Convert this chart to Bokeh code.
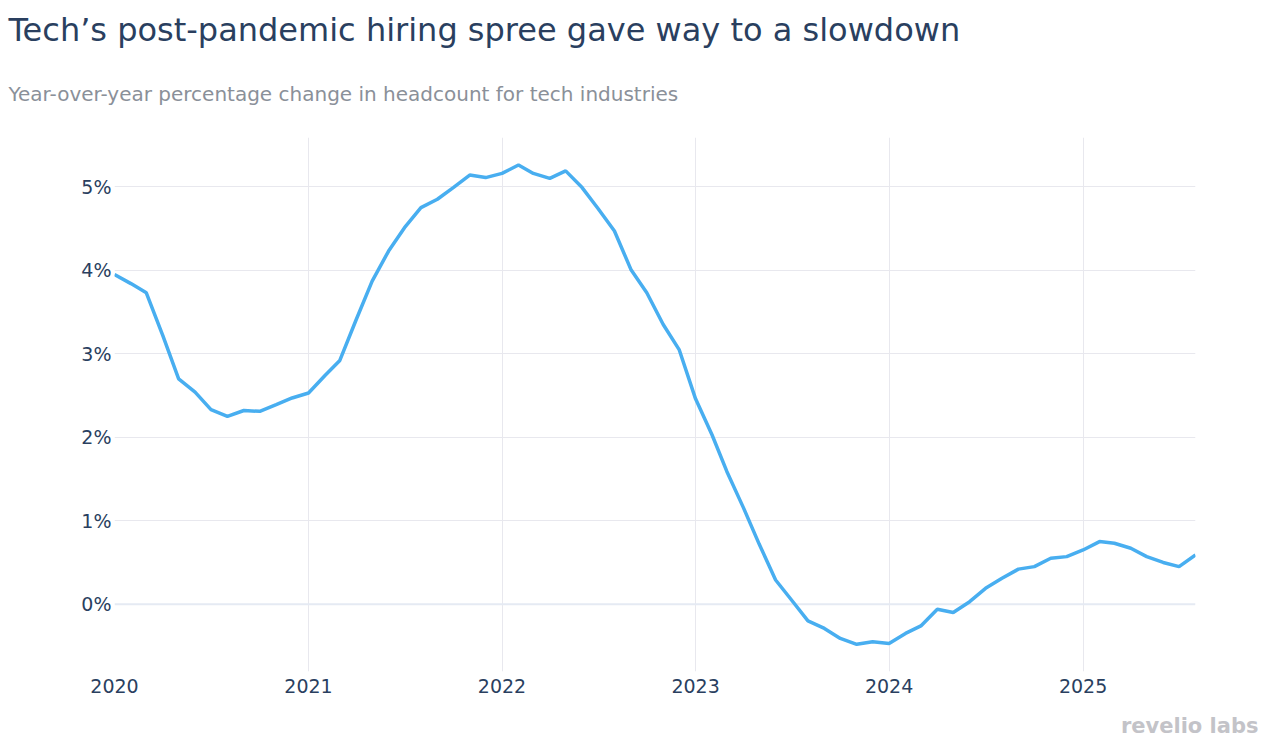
from datetime import datetime
import pandas as pd
from bokeh.plotting import figure
from bokeh.models import Range1d, FixedTicker, DatetimeTickFormatter, PrintfTickFormatter, Span, Title
from bokeh.embed import file_html
from bokeh.resources import INLINE

# ---- data ----
title_text = "Tech\u2019s post-pandemic hiring spree gave way to a slowdown"
subtitle_text = "Year-over-year percentage change in headcount for tech industries"
brand_text = "revelio labs"

yoy_2020 = [3.95, 3.84, 3.73, 3.22, 2.70, 2.54, 2.33, 2.25, 2.32, 2.31, 2.39, 2.47]
yoy_2021 = [2.53, 2.74, 2.92, 3.41, 3.87, 4.23, 4.51, 4.75, 4.85, 4.99, 5.14, 5.11]
yoy_2022 = [5.16, 5.26, 5.16, 5.10, 5.19, 4.99, 4.74, 4.47, 4.01, 3.73, 3.35, 3.05]
yoy_2023 = [2.46, 2.03, 1.59, 1.16, 0.72, 0.29, 0.05, -0.20, -0.29, -0.41, -0.48, -0.45]
yoy_2024 = [-0.47, -0.35, -0.26, -0.06, -0.10, 0.03, 0.19, 0.31, 0.42, 0.45, 0.55, 0.57]
yoy_2025 = [0.65, 0.75, 0.73, 0.67, 0.57, 0.50, 0.45, 0.59]

tick_years = [2020, 2021, 2022, 2023, 2024, 2025]
y_ticks = [0, 1, 2, 3, 4, 5]

values = yoy_2020 + yoy_2021 + yoy_2022 + yoy_2023 + yoy_2024 + yoy_2025
dates = pd.date_range("2020-01-01", periods=len(values), freq="MS")

FONT = "DejaVu Sans"
NAVY = "#2a3f5f"

# layout (pixels)
W, H = 1268, 754
L, R, T, B = 114, 73, 137, 83
X0, X1 = datetime(2020, 1, 1), datetime(2025, 8, 1)
Y0, Y1 = -0.806, 5.59

p = figure(width=W, height=H, output_backend="svg", toolbar_location=None,
           x_axis_type="datetime",
           x_range=Range1d(X0, X1), y_range=Range1d(Y0, Y1),
           min_border_left=L, min_border_right=R, min_border_top=T, min_border_bottom=B)
p.outline_line_color = None
p.background_fill_color = "white"
p.border_fill_color = "white"

xt = FixedTicker(ticks=[datetime(y, 1, 1).timestamp() * 1000 for y in tick_years])
p.xaxis.ticker = xt
p.xgrid.ticker = xt
p.xaxis.formatter = DatetimeTickFormatter(years="%Y", months="%Y", days="%Y", hours="%Y")
p.yaxis.ticker = FixedTicker(ticks=y_ticks)
p.ygrid.ticker = FixedTicker(ticks=[t for t in y_ticks if t != 0])
p.yaxis.formatter = PrintfTickFormatter(format="%d%%")

for ax in (p.xaxis, p.yaxis):
    ax.axis_line_color = None
    ax.major_tick_line_color = None
    ax.minor_tick_line_color = None
    ax.major_tick_out = 0
    ax.major_tick_in = 0
    ax.minor_tick_out = 0
    ax.major_label_text_font = FONT
    ax.major_label_text_font_size = "19px"
    ax.major_label_text_color = NAVY
p.xaxis.major_label_standoff = 7
p.yaxis.major_label_standoff = 3

p.xgrid.grid_line_color = "#E8E8EE"
p.ygrid.grid_line_color = "#E8E8EE"

p.add_layout(Span(location=0, dimension="width", line_color="#E5EAF3", line_width=2, level="underlay"))

p.line(dates, values, line_color="#48AEF0", line_width=3.5)

# titles (first added 'above' sits closest to the frame)
sub = Title(text=subtitle_text, align="left", offset=-(L - 8),
            text_font=FONT, text_font_size="20px", text_font_style="normal",
            text_color="#8a9099", standoff=63)
main = Title(text=title_text, align="left", offset=-(L - 8),
             text_font=FONT, text_font_size="32px", text_font_style="normal",
             text_color=NAVY, standoff=0)
p.add_layout(sub, "above")
p.add_layout(main, "above")

brand = Title(text=brand_text, align="right", offset=-(1258 - (W - R)),
              text_font=FONT, text_font_size="21px", text_font_style="bold",
              text_color="#c3c3c8", standoff=32)
p.add_layout(brand, "below")

open("out.html", "w").write(file_html(p, INLINE))
